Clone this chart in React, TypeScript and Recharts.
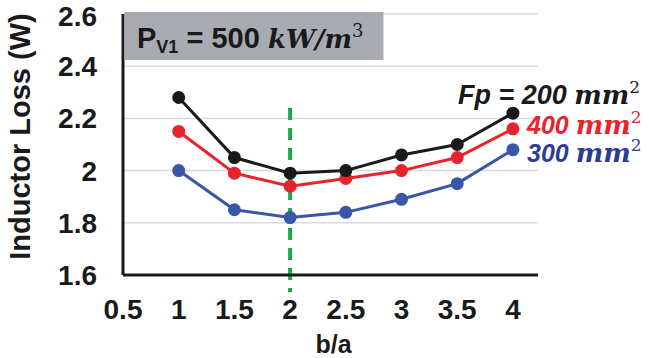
import { CartesianGrid, Label, Line, LineChart, ReferenceLine, XAxis, YAxis } from 'recharts';

const ratios = [1, 1.5, 2, 2.5, 3, 3.5, 4];
const loss200 = [2.28, 2.05, 1.99, 2.0, 2.06, 2.1, 2.22];
const loss400 = [2.15, 1.99, 1.94, 1.97, 2.0, 2.05, 2.16];
const loss300 = [2.0, 1.85, 1.82, 1.84, 1.89, 1.95, 2.08];
const xTicks = [0.5, 1, 1.5, 2, 2.5, 3, 3.5, 4];
const yTicks = [1.6, 1.8, 2, 2.2, 2.4, 2.6];
const optimumRatio = 2;

const data = ratios.map((ratio, i) => ({
  ratio,
  fp200: loss200[i],
  fp400: loss400[i],
  fp300: loss300[i],
}));

const INK = '#1a1a1a';
const RED = '#e8232b';
const BLUE = '#3a56a8';
const SANS = '"Liberation Sans", Arial, sans-serif';
const SERIF = '"DejaVu Serif", "Liberation Serif", serif';

const tickStyle = { fontFamily: SANS, fontWeight: 700, fontSize: 28, fill: INK };

export default function App() {
  return (
    <div style={{ position: 'absolute', left: 0, top: 0, width: 649, height: 358, background: '#fff' }}>
      <LineChart
        width={649}
        height={358}
        data={data}
        margin={{ top: 14, right: 111, left: 0, bottom: 0 }}
      >
        <CartesianGrid vertical={false} stroke="#d6dae3" strokeWidth={1.5} />
        <XAxis
          type="number"
          dataKey="ratio"
          domain={[0.5, 4.225]}
          ticks={xTicks}
          height={83}
          tickLine={false}
          tickSize={0}
          tickMargin={24}
          axisLine={{ stroke: INK, strokeWidth: 3 }}
          tick={tickStyle}
        >
          <Label
            content={({ viewBox }: any) => (
              <text
                x={viewBox.x + viewBox.width / 2 + 3}
                y={viewBox.y + 78}
                textAnchor="middle"
                style={{ fontFamily: SANS, fontWeight: 700, fontSize: 25, fill: INK }}
              >
                b/a
              </text>
            )}
          />
        </XAxis>
        <YAxis
          type="number"
          domain={[1.6, 2.6]}
          ticks={yTicks}
          width={123}
          tickLine={false}
          tickSize={0}
          tickMargin={26}
          axisLine={{ stroke: INK, strokeWidth: 3 }}
          tick={tickStyle}
        >
          <Label
            content={({ viewBox }: any) => (
              <text
                x={20}
                y={viewBox.y + viewBox.height / 2 - 8}
                transform={`rotate(-90, 20, ${viewBox.y + viewBox.height / 2 - 8})`}
                textAnchor="middle"
                dominantBaseline="central"
                style={{ fontFamily: SANS, fontWeight: 700, fontSize: 29, fill: INK }}
              >
                Inductor Loss (W)
              </text>
            )}
          />
        </YAxis>
        <ReferenceLine
          segment={[
            { x: optimumRatio, y: 2.24 },
            { x: optimumRatio, y: 1.535 },
          ]}
          ifOverflow="visible"
          stroke="#1faa4f"
          strokeWidth={4}
          strokeDasharray="12 8"
        />
        <Line
          dataKey="fp300"
          stroke={BLUE}
          strokeWidth={3}
          dot={{ r: 5, fill: BLUE, stroke: BLUE }}
          isAnimationActive={false}
        />
        <Line
          dataKey="fp400"
          stroke={RED}
          strokeWidth={3}
          dot={{ r: 5, fill: RED, stroke: RED }}
          isAnimationActive={false}
        />
        <Line
          dataKey="fp200"
          stroke={INK}
          strokeWidth={3}
          dot={{ r: 5, fill: INK, stroke: INK }}
          isAnimationActive={false}
        />
      </LineChart>

      <svg
        width={649}
        height={358}
        style={{ position: 'absolute', left: 0, top: 0, pointerEvents: 'none' }}
      >
        <rect x={124.5} y={12} width={259} height={48} fill="#a8acb2" />
        <text x={137} y={48} style={{ fontFamily: SANS, fontWeight: 700, fontSize: 29, fill: INK }}>
          P
          <tspan dy={5} style={{ fontSize: 18 }}>V1</tspan>
          <tspan dy={-5}> = 500 </tspan>
          <tspan style={{ fontFamily: SERIF, fontStyle: 'italic', fontWeight: 700, fontSize: 26 }}>
            kW/m
          </tspan>
          <tspan dy={-11} style={{ fontFamily: SERIF, fontWeight: 400, fontSize: 18 }}>3</tspan>
        </text>

        <text x={458} y={104} style={{ fontFamily: SANS, fontStyle: 'italic', fontWeight: 700, fontSize: 27, fill: INK }}>
          Fp = 200{' '}
          <tspan style={{ fontFamily: SERIF, fontSize: 26 }}>mm</tspan>
          <tspan dy={-11} style={{ fontFamily: SERIF, fontStyle: 'normal', fontWeight: 400, fontSize: 17 }}>2</tspan>
        </text>
        <text x={527} y={134} style={{ fontFamily: SANS, fontStyle: 'italic', fontWeight: 700, fontSize: 25, fill: RED }}>
          400{' '}
          <tspan style={{ fontFamily: SERIF, fontSize: 26 }}>mm</tspan>
          <tspan dy={-11} style={{ fontFamily: SERIF, fontStyle: 'normal', fontWeight: 400, fontSize: 17 }}>2</tspan>
        </text>
        <text x={527} y={162} style={{ fontFamily: SANS, fontStyle: 'italic', fontWeight: 700, fontSize: 25, fill: '#2e3b95' }}>
          300{' '}
          <tspan style={{ fontFamily: SERIF, fontSize: 26 }}>mm</tspan>
          <tspan dy={-11} style={{ fontFamily: SERIF, fontStyle: 'normal', fontWeight: 400, fontSize: 17 }}>2</tspan>
        </text>
      </svg>
    </div>
  );
}
